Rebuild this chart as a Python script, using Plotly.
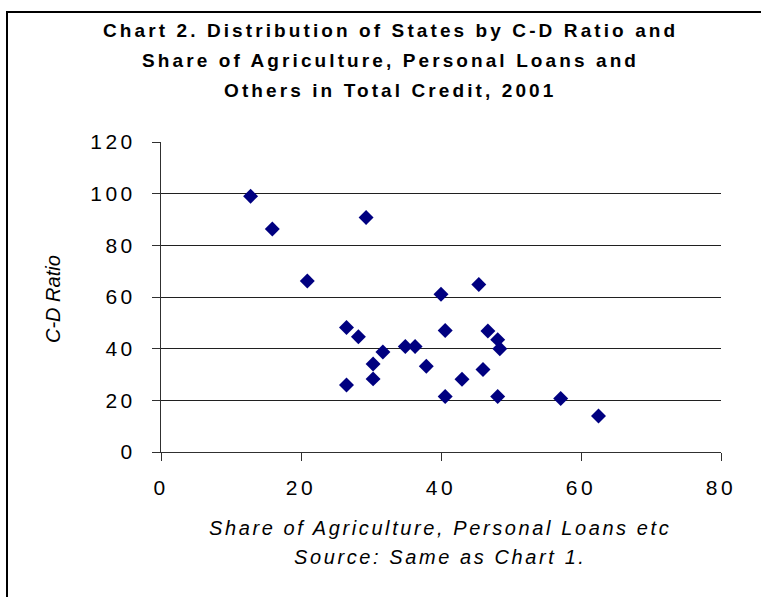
import plotly.graph_objects as go

# Share of agriculture, personal loans and others in total credit (%), per state
share = [12.8, 15.9, 29.3, 20.9, 40.0, 26.5, 28.2, 31.7, 30.3, 34.9, 36.3, 37.9,
         26.5, 30.3, 40.6, 40.6, 45.4, 46.7, 48.1, 48.4, 46.0, 43.0, 48.1, 57.1, 62.5]
# Credit-deposit ratio, per state
cd_ratio = [99.0, 86.3, 90.8, 66.2, 61.1, 48.2, 44.6, 38.7, 34.1, 40.8, 40.8, 33.2,
            25.9, 28.3, 47.0, 21.5, 64.8, 46.8, 43.5, 40.0, 31.9, 28.2, 21.5, 20.7, 13.9]

x_ticks = [0, 20, 40, 60, 80]
y_ticks = [0, 20, 40, 60, 80, 100, 120]
y_grid = [20, 40, 60, 80, 100]

title_lines = [
    "Chart 2. Distribution of States by C-D Ratio and",
    "Share of Agriculture, Personal Loans and",
    "Others in Total Credit, 2001",
]
x_title_lines = ["Share of Agriculture, Personal Loans etc", "Source: Same as Chart 1."]
y_title = "C-D Ratio"

W, H = 761, 597
L, R, T, B = 161, 40, 142, 145
FONT = "Liberation Sans, Arial, sans-serif"


def px_x(p):
    return (p - L) / (W - L - R)


def px_y(p):
    return (H - B - p) / (H - T - B)


def spaced(text, gap):
    return f'<span style="letter-spacing:{gap}px">{text}</span>'


fig = go.Figure(
    go.Scatter(
        x=share,
        y=cd_ratio,
        mode="markers",
        marker=dict(symbol="diamond", size=11.5, color="#000080",
                    line=dict(width=0)),
        showlegend=False,
    )
)

axis_common = dict(
    showline=True, linecolor="#303030", linewidth=1,
    ticks="outside", ticklen=8, tickcolor="#303030", tickwidth=1,
    showgrid=False, zeroline=False, fixedrange=True,
    tickfont=dict(family=FONT, size=21, color="#000"),
)

fig.update_xaxes(
    range=[0, 80], tickmode="array", tickvals=x_ticks,
    ticktext=[spaced(str(v), 3.5) for v in x_ticks],
    ticklabelstandoff=9, **axis_common,
)
fig.update_yaxes(
    range=[0, 120], tickmode="array", tickvals=y_ticks,
    ticktext=[spaced(str(v), 3.5) for v in y_ticks],
    ticklabelstandoff=12,
    minor=dict(tickmode="array", tickvals=y_grid, showgrid=True,
               gridcolor="#202020", gridwidth=1, ticks=""),
    **axis_common,
)

annotations = []
for text, yc in zip(title_lines, [31, 60.5, 90]):
    annotations.append(dict(
        text=spaced(f"<b>{text}</b>", 3.1), x=px_x(390), y=px_y(yc),
        xref="paper", yref="paper", xanchor="center", yanchor="middle",
        showarrow=False, font=dict(family=FONT, size=19, color="#000"),
    ))
for text, yc in zip(x_title_lines, [528, 557]):
    annotations.append(dict(
        text=spaced(f"<i>{text}</i>", 2.6), x=px_x(440), y=px_y(yc),
        xref="paper", yref="paper", xanchor="center", yanchor="middle",
        showarrow=False, font=dict(family=FONT, size=20, color="#000"),
    ))
annotations.append(dict(
    text=f"<i>{y_title}</i>", x=px_x(53), y=px_y(299), textangle=-90,
    xref="paper", yref="paper", xanchor="center", yanchor="middle",
    showarrow=False, font=dict(family=FONT, size=20, color="#000"),
))

fig.update_layout(
    width=W, height=H,
    margin=dict(l=L, r=R, t=T, b=B, autoexpand=False),
    paper_bgcolor="white", plot_bgcolor="white",
    annotations=annotations,
    shapes=[dict(type="rect", xref="paper", yref="paper",
                 x0=px_x(7), x1=px_x(820), y0=px_y(660), y1=px_y(12),
                 line=dict(color="#000", width=2), layer="below")],
)

fig.write_html("out.html")
